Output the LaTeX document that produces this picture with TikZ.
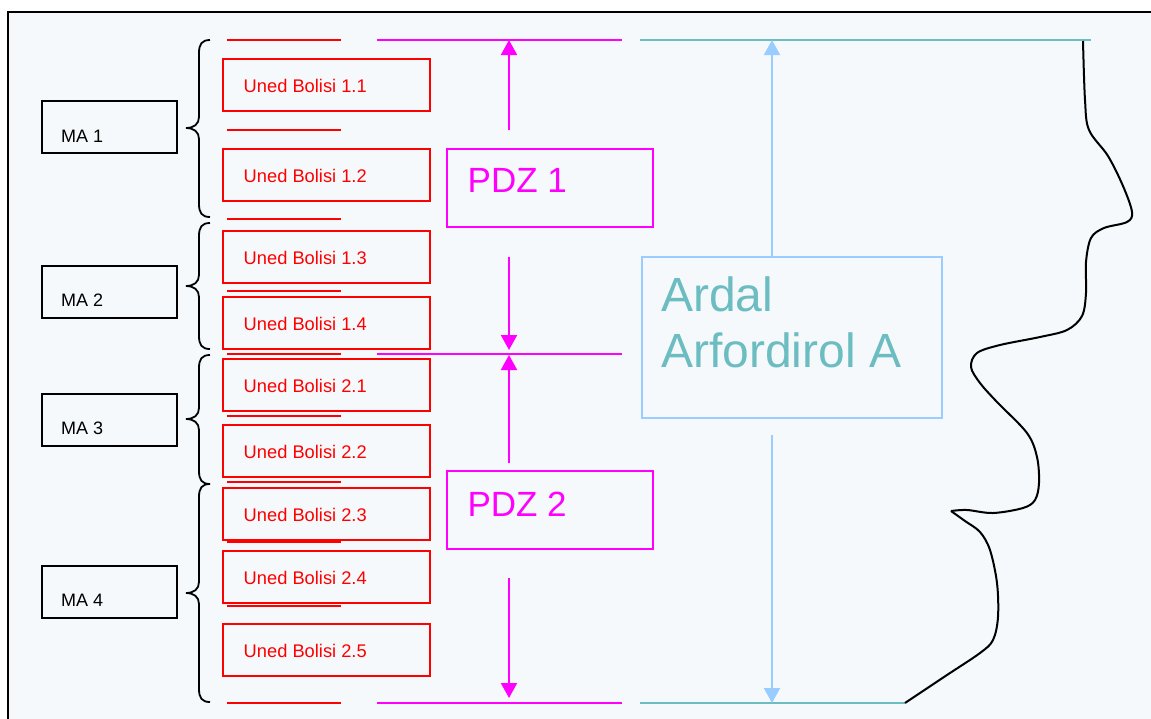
\documentclass[tikz,border=0pt]{standalone}
\usepackage{fontspec}
\setmainfont{Liberation Sans}
\usetikzlibrary{arrows.meta}
\definecolor{bgc}{RGB}{245,249,251}
\definecolor{mag}{RGB}{255,0,255}
\definecolor{lblue}{RGB}{153,204,255}
\definecolor{tealx}{RGB}{108,189,194}
\definecolor{redx}{RGB}{255,0,0}
\begin{document}
\begin{tikzpicture}[x=1pt,y=-1pt,
  mabox/.style={draw=black, line width=2pt, minimum width=135pt, minimum height=52pt, anchor=north west, inner sep=0pt},
  matext/.style={anchor=base west, inner sep=0pt, font=\fontsize{18}{21}\selectfont},
  ubox/.style={draw=redx, line width=2.3pt, minimum width=207pt, minimum height=52pt, anchor=north west, inner sep=0pt},
  utext/.style={anchor=base west, inner sep=0pt, text=redx, font=\fontsize{18.3}{22}\selectfont},
  pbox/.style={draw=mag, line width=2.2pt, minimum width=206pt, minimum height=78pt, anchor=north west, inner sep=0pt},
  ptext/.style={anchor=base west, inner sep=0pt, text=mag, font=\fontsize{35}{42}\selectfont},
  atext/.style={anchor=base west, inner sep=0pt, text=tealx, font=\fontsize{48}{56}\selectfont},
  brc/.style={draw=black, line width=1.8pt},
  redline/.style={draw=redx, line width=2pt},
  magline/.style={draw=mag, line width=2pt},
  tealline/.style={draw=tealx, line width=2.2pt},
  magarrow/.style={draw=mag, line width=2pt, -{Triangle[width=16pt,length=15pt]}},
  bluearrow/.style={draw=lblue, line width=2pt, -{Triangle[width=16pt,length=15pt]}}
]
\useasboundingbox (0,0) rectangle (1151,718);
\clip (0,0) rectangle (1151,718);
% background and frame
\fill[bgc] (8,12) rectangle (1170,740);
\draw[line width=2.2pt] (8,740) -- (8,12) -- (1170,12);

% MA boxes
\node[mabox] (ma1) at (41,100) {};
\node[mabox] (ma2) at (41,265) {};
\node[mabox] (ma3) at (41,393) {};
\node[mabox] (ma4) at (41,565) {};
\node[matext] (ma1t) at (61,142) {MA 1};
\node[matext] (ma2t) at (61,306) {MA 2};
\node[matext] (ma3t) at (61,434) {MA 3};
\node[matext] (ma4t) at (61,606) {MA 4};

% braces
\foreach \t/\m/\b in {40/128/217, 223/286/349, 355/419/484, 484/593/702} {
  \draw[brc] (210,\t) .. controls (202,\t) and (199,\t+4) .. (199,\t+13)
    -- (199,\m-11) .. controls (199,\m-4) and (194,\m) .. (186,\m)
    .. controls (194,\m) and (199,\m+4) .. (199,\m+11)
    -- (199,\b-13) .. controls (199,\b-4) and (202,\b) .. (210,\b);
}

% red lines
\foreach \y in {40,130,219,291,354,416,482,542,606,703} {
  \draw[redline] (227,\y) -- (341,\y);
}

% Uned Bolisi boxes
\foreach \n/\tp in {u11/58, u12/148, u13/230, u14/296, u21/358, u22/424, u23/487, u24/550, u25/623} {
  \node[ubox] (\n) at (222,\tp) {};
}
\node[utext] (u11t) at (243.5,92) {Uned Bolisi 1.1};
\node[utext] (u12t) at (243.5,182) {Uned Bolisi 1.2};
\node[utext] (u13t) at (243.5,264) {Uned Bolisi 1.3};
\node[utext] (u14t) at (243.5,330) {Uned Bolisi 1.4};
\node[utext] (u21t) at (243.5,392) {Uned Bolisi 2.1};
\node[utext] (u22t) at (243.5,458) {Uned Bolisi 2.2};
\node[utext] (u23t) at (243.5,521) {Uned Bolisi 2.3};
\node[utext] (u24t) at (243.5,584) {Uned Bolisi 2.4};
\node[utext] (u25t) at (243.5,657) {Uned Bolisi 2.5};

% magenta horizontal lines
\coordinate (m1a) at (377,40);  \coordinate (m1b) at (622,40);
\coordinate (m2a) at (377,354); \coordinate (m2b) at (622,354);
\coordinate (m3a) at (377,703); \coordinate (m3b) at (622,703);
\draw[magline] (m1a) -- (m1b);
\draw[magline] (m2a) -- (m2b);
\draw[magline] (m3a) -- (m3b);

% teal lines
\coordinate (t1a) at (640,40);  \coordinate (t1b) at (1091,40);
\coordinate (t2a) at (640,703); \coordinate (t2b) at (905,703);
\draw[tealline] (t1a) -- (t1b);
\draw[tealline] (t2a) -- (t2b);

% PDZ boxes
\node[pbox] (pdz1) at (446,148) {};
\node[pbox] (pdz2) at (446,470) {};
\node[ptext] (pdz1t) at (467.5,192.5) {PDZ 1};
\node[ptext] (pdz2t) at (467.3,516) {PDZ 2};

% magenta arrows
\coordinate (a1s) at (509,130); \coordinate (a1e) at (509,40);
\coordinate (a2s) at (509,257); \coordinate (a2e) at (509,350);
\coordinate (a3s) at (509,463); \coordinate (a3e) at (509,355);
\coordinate (a4s) at (509,578); \coordinate (a4e) at (509,698);
\draw[magarrow] (a1s) -- (a1e);
\draw[magarrow] (a2s) -- (a2e);
\draw[magarrow] (a3s) -- (a3e);
\draw[magarrow] (a4s) -- (a4e);

% Ardal box
\node[draw=lblue, line width=2.2pt, minimum width=300pt, minimum height=161pt, anchor=north west, inner sep=0pt] (ardal) at (641,256) {};
\node[atext] (ardalt1) at (661,311) {Ardal};
\node[atext] (ardalt2) at (661,367) {Arfordirol A};
\coordinate (b1e) at (772,40);
\coordinate (b2s) at (772,435); \coordinate (b2e) at (772,703);
\draw[bluearrow] (ardal.north -| b1e) -- (b1e);
\draw[bluearrow] (b2s) -- (b2e);

% coastline curve
\draw[black, line width=2pt] plot[smooth, tension=0.55] coordinates {
 (1083,41) (1085,100) (1089,130) (1108,156) (1123,186) (1132,212) (1127,222)
 (1104,228) (1091,238) (1086,262) (1086,293) (1082,316) (1067,330) (1040,337)
 (1000,345) (977,353) (971,367) (980,383) (997,402) (1027,433) (1037,457)
 (1039,483) (1035,500) (1023,508) (993,513) (967,510) (951,511)};
\draw[black, line width=2pt] plot[smooth, tension=0.55] coordinates {
 (951,511) (965,521) (980,532) (990,550) (997,583) (998,617) (993,640)
 (980,653) (947,675) (905,703)};
\end{tikzpicture}
\end{document}
